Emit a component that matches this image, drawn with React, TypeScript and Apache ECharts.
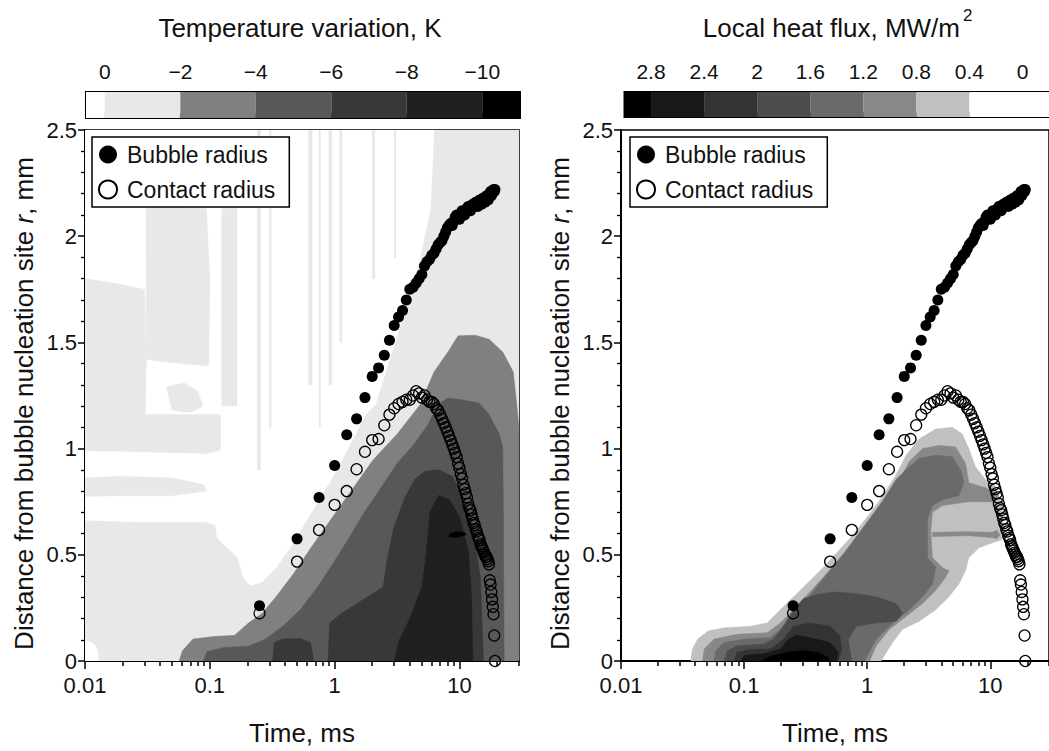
import React, { useEffect, useRef } from 'react';
import * as echarts from 'echarts';

const FONT = '"Liberation Sans", Arial, Helvetica, sans-serif';
const INK = '#111';

// ---------- measured points (time in ms, radius in mm) ----------
const timeMs = [0.25, 0.5, 0.75, 1, 1.25, 1.5, 1.75, 2, 2.25, 2.5, 2.75, 3, 3.25, 3.5, 3.75, 4, 4.25, 4.5, 4.75, 5,
  5.25, 5.5, 5.75, 6, 6.25, 6.5, 6.75, 7, 7.25, 7.5, 7.75, 8, 8.25, 8.5, 8.75, 9, 9.25, 9.5, 9.75, 10,
  10.25, 10.5, 10.75, 11, 11.25, 11.5, 11.75, 12, 12.25, 12.5, 12.75, 13, 13.25, 13.5, 13.75, 14, 14.25, 14.5, 14.75, 15,
  15.25, 15.5, 15.75, 16, 16.25, 16.5, 16.75, 17, 17.25, 17.5, 17.75, 18, 18.25, 18.5, 18.75, 19, 19.25];

const bubbleRadius = [0.26, 0.575, 0.77, 0.92, 1.065, 1.14, 1.24, 1.34, 1.38, 1.44,
  1.51, 1.58, 1.62, 1.65, 1.70, 1.75, 1.76, 1.78, 1.80, 1.82,
  1.86, 1.88, 1.89, 1.91, 1.92, 1.94, 1.96, 1.97, 1.98, 2.00,
  2.02, 2.04, 2.05, 2.06, 2.05, 2.07, 2.09, 2.10, 2.09, 2.08,
  2.10, 2.12, 2.11, 2.10, 2.12, 2.13, 2.14, 2.13, 2.12, 2.14,
  2.15, 2.14, 2.15, 2.16, 2.15, 2.14, 2.16, 2.17, 2.16, 2.15,
  2.17, 2.18, 2.17, 2.16, 2.18, 2.19, 2.18, 2.17, 2.19, 2.20,
  2.21, 2.19, 2.20, 2.21, 2.22, 2.21, 2.22];

const contactRadius = [0.225, 0.468, 0.617, 0.735, 0.80, 0.903, 0.985, 1.04, 1.045, 1.11,
  1.16, 1.19, 1.21, 1.22, 1.23, 1.23, 1.25, 1.27, 1.26, 1.24,
  1.25, 1.23, 1.22, 1.22, 1.21, 1.19, 1.18, 1.16, 1.14, 1.12,
  1.10, 1.08, 1.06, 1.04, 1.02, 1.00, 0.98, 0.96, 0.93, 0.91,
  0.88, 0.86, 0.83, 0.81, 0.79, 0.77, 0.74, 0.72, 0.71, 0.69,
  0.67, 0.65, 0.64, 0.62, 0.61, 0.59, 0.58, 0.57, 0.55, 0.54,
  0.53, 0.52, 0.51, 0.50, 0.49, 0.49, 0.48, 0.47, 0.455, 0.38,
  0.36, 0.325, 0.29, 0.255, 0.22, 0.12, 0.0];

// ---------- axes ----------
const xMajorTicks = [0.01, 0.1, 1, 10];
const xTickLabels = ['0.01', '0.1', '1', '10'];
const xMinorTicks = [0.02, 0.03, 0.04, 0.05, 0.06, 0.07, 0.08, 0.09, 0.2, 0.3, 0.4, 0.5, 0.6, 0.7, 0.8, 0.9,
  2, 3, 4, 5, 6, 7, 8, 9, 20, 30];

// ---------- colour bars ----------
const tempBounds = [0.5, 0, -2, -4, -6, -8, -10, -11];
const tempColors = ['#ffffff', '#e8e8e8', '#808080', '#585858', '#383838', '#202020', '#000000'];
const tempTicks = [0, -1, -2, -3, -4, -5, -6, -7, -8, -9, -10, -11];
const tempLabels = [0, -2, -4, -6, -8, -10];

const fluxBounds = [3.0, 2.8, 2.4, 2.0, 1.6, 1.2, 0.8, 0.4, -0.2];
const fluxColors = ['#000000', '#181818', '#333333', '#4c4c4c', '#6a6a6a', '#888888', '#c0c0c0', '#ffffff'];
const fluxTicks = [2.8, 2.4, 2, 1.6, 1.2, 0.8, 0.4, 0];

// ---------- temperature contours [time ms, r mm] ----------
const tempDomain = [[0.01, 0], [30, 0], [30, 2.5], [0.01, 2.5]];
const tempWarmMain = [[0.01, 2.5], [6.25, 2.5], [5.86, 2.13], [4.84, 1.9], [3.76, 1.67], [3.1, 1.515], [2.56, 1.36],
  [2.12, 1.207], [1.78, 1.16], [1.47, 1.07], [1.22, 0.977], [0.94, 0.854], [0.73, 0.747], [0.565, 0.64], [0.438, 0.532],
  [0.339, 0.44], [0.262, 0.371], [0.21, 0.356], [0.185, 0.394], [0.168, 0.486], [0.139, 0.532], [0.115, 0.578],
  [0.111, 0.64], [0.0946, 0.655], [0.0264, 0.655], [0.01, 0.663]];
const tempCoolBlockA = [[0.01, 1.8], [0.0169, 1.78], [0.03, 1.75], [0.031, 1.42], [0.03, 0.99], [0.01, 0.99]];
const tempCoolBlockB = [[0.0308, 2.13], [0.041, 2.14], [0.0937, 2.13], [0.1, 1.8], [0.098, 1.39], [0.06, 1.4], [0.031, 1.42]];
const tempCoolBand = [[0.01, 1.16], [0.122, 1.16], [0.122, 0.992], [0.0946, 0.977], [0.0264, 0.985], [0.01, 0.992]];
const tempCoolDrop = [[0.045, 1.29], [0.062, 1.31], [0.08, 1.27], [0.088, 1.2], [0.07, 1.17], [0.05, 1.18]];
const tempCoolCigar = [[0.01, 0.862], [0.0192, 0.87], [0.05, 0.862], [0.0887, 0.831], [0.0946, 0.8], [0.05, 0.778],
  [0.0192, 0.778], [0.01, 0.775]];
const tempWarmCorner = [[0.01, 0], [0.0128, 0], [0.0126, 0.05], [0.0118, 0.08], [0.01, 0.1]];
// vertical streaks: [t0, t1, r0, r1]
const tempStreaks = [[0.125, 0.165, 1.2, 2.13], [0.24, 0.255, 0.9, 2.5], [0.3, 0.31, 1.1, 2.5], [0.62, 0.66, 1.3, 2.5],
  [0.75, 0.77, 1.1, 2.5], [0.9, 0.95, 1.3, 2.5], [1.1, 1.14, 1.5, 2.5], [2.0, 2.1, 1.8, 2.5], [3.0, 3.1, 1.9, 2.5]];
const tempLevel2 = [[0.0568, 0], [0.0605, 0.049], [0.0733, 0.103], [0.107, 0.115], [0.158, 0.121], [0.204, 0.179],
  [0.263, 0.225], [0.339, 0.302], [0.467, 0.41], [0.643, 0.532], [0.942, 0.67], [1.38, 0.808], [2.03, 0.946],
  [3.17, 1.069], [4.84, 1.207], [6.25, 1.361], [8.06, 1.454], [9.75, 1.531], [13.4, 1.534], [17.3, 1.515],
  [22.3, 1.454], [27, 1.361], [28.8, 1.207], [30, 1.1], [30, 0]];
const tempLevel3 = [[0.0887, 0], [0.0946, 0.044], [0.13, 0.064], [0.204, 0.069], [0.28, 0.103], [0.385, 0.164],
  [0.53, 0.241], [0.73, 0.348], [1.0, 0.471], [1.3, 0.578], [1.67, 0.686], [2.3, 0.808], [3.17, 0.931], [4.36, 1.023],
  [5.62, 1.115], [6.65, 1.207], [8.06, 1.238], [10.4, 1.23], [14.3, 1.215], [17.3, 1.16], [20.9, 1.068],
  [22.2, 1.008], [22.5, 0.7], [22.8, 0]];
const tempLevel4 = [[0.883, 0], [0.9, 0.1], [0.912, 0.179], [1.14, 0.225], [1.67, 0.287], [2.45, 0.348], [2.62, 0.471],
  [2.97, 0.624], [3.6, 0.762], [4.36, 0.854], [5.27, 0.893], [6.81, 0.9], [8.79, 0.87], [10.6, 0.778], [12.9, 0.624],
  [14.7, 0.394], [15.6, 0]];
const tempLevel4b = [[0.318, 0], [0.328, 0.087], [0.385, 0.103], [0.53, 0.106], [0.64, 0.087], [0.68, 0]];
const tempDot = [[1.65, 0.2], [1.73, 0.215], [1.82, 0.2], [1.73, 0.185]];
const tempLevel5 = [[3.0, 0], [3.3, 0.1], [4.0, 0.2], [5.0, 0.35], [5.4, 0.5], [5.8, 0.7], [6.8, 0.78], [8.3, 0.76],
  [10.0, 0.68], [11.8, 0.52], [12.5, 0.3], [12.8, 0]];
const tempSpot = [[8.27, 0.597], [9.37, 0.609], [11.0, 0.606], [11.3, 0.594], [9.37, 0.581], [8.27, 0.586]];

// ---------- heat-flux contours [time ms, r mm] ----------
const fluxLevel04 = [[0.037, 0], [0.038, 0.057], [0.042, 0.103], [0.051, 0.141], [0.069, 0.156], [0.113, 0.164],
  [0.154, 0.179], [0.185, 0.225], [0.237, 0.287], [0.304, 0.348], [0.414, 0.425], [0.564, 0.509], [0.769, 0.594],
  [1.047, 0.693], [1.34, 0.778], [1.717, 0.877], [2.07, 0.969], [2.65, 1.046], [3.61, 1.092], [4.91, 1.1],
  [5.92, 1.069], [6.69, 1.0], [7.57, 0.916], [9.12, 0.854], [11.0, 0.824], [12.4, 0.732], [12.8, 0.609],
  [12.4, 0.571], [10.3, 0.555], [8.05, 0.532], [6.69, 0.486], [6.29, 0.425], [5.56, 0.363], [4.62, 0.302],
  [3.61, 0.241], [2.65, 0.187], [1.94, 0.149], [1.61, 0.087], [1.38, 0.026], [1.3, 0]];
const fluxLevel08 = [[0.046, 0], [0.0475, 0.057], [0.057, 0.103], [0.088, 0.126], [0.154, 0.133], [0.197, 0.179],
  [0.252, 0.241], [0.324, 0.31], [0.44, 0.394], [0.6, 0.486], [0.817, 0.578], [1.114, 0.67], [1.426, 0.755],
  [1.827, 0.854], [2.2, 0.939], [2.82, 1.0], [3.84, 1.015], [5.23, 1.008], [6.29, 0.931], [6.69, 0.839],
  [9.12, 0.816], [11.7, 0.785], [11.0, 0.75], [6.69, 0.75], [4.08, 0.732], [3.39, 0.701], [3.29, 0.609],
  [3.39, 0.486], [4.08, 0.44], [4.62, 0.425], [4.34, 0.394], [3.61, 0.333], [2.82, 0.271], [2.07, 0.21],
  [1.517, 0.149], [1.185, 0.072], [1.047, 0]];
const fluxTongue = [[3.39, 0.606], [6.69, 0.609], [10.3, 0.606], [11.3, 0.615], [12.0, 0.594], [11.3, 0.575],
  [10.3, 0.581], [6.69, 0.59], [3.39, 0.586]];
const fluxLevel12 = [[0.057, 0], [0.059, 0.049], [0.069, 0.087], [0.1, 0.103], [0.164, 0.11], [0.197, 0.149],
  [0.237, 0.21], [0.304, 0.271], [0.389, 0.348], [0.499, 0.425], [0.638, 0.5], [0.817, 0.586], [1.047, 0.67],
  [1.34, 0.755], [1.717, 0.854], [2.07, 0.9], [2.65, 0.954], [3.61, 0.969], [4.91, 0.962], [5.74, 0.9],
  [6.1, 0.839], [5.56, 0.778], [4.08, 0.759], [3.39, 0.732], [3.09, 0.67], [3.09, 0.486], [3.61, 0.44],
  [3.39, 0.363], [2.82, 0.302], [2.2, 0.241], [1.614, 0.179], [1.185, 0.103], [0.955, 0]];
const fluxLevel16 = [[0.069, 0], [0.073, 0.049], [0.088, 0.072], [0.145, 0.08], [0.174, 0.103], [0.21, 0.164],
  [0.252, 0.241], [0.304, 0.294], [0.414, 0.317], [0.564, 0.325], [0.817, 0.317], [1.185, 0.302], [1.717, 0.271],
  [1.943, 0.225], [1.717, 0.187], [1.185, 0.179], [0.817, 0.164], [0.7, 0.1], [0.75, 0]];
const fluxLevel20 = [[0.083, 0], [0.088, 0.041], [0.113, 0.054], [0.164, 0.057], [0.21, 0.103], [0.252, 0.164],
  [0.344, 0.179], [0.499, 0.164], [0.6, 0.118], [0.619, 0.057], [0.582, 0]];
const fluxLevel24 = [[0.094, 0], [0.1, 0.026], [0.145, 0.034], [0.197, 0.057], [0.23, 0.103], [0.268, 0.121],
  [0.344, 0.11], [0.499, 0.087], [0.582, 0.041], [0.564, 0]];
const fluxLevel28 = [[0.14, 0], [0.16, 0.02], [0.22, 0.04], [0.3, 0.05], [0.4, 0.04], [0.48, 0.015], [0.5, 0]];

type Region = { level: number; pts: number[][] };

const tempRegions: Region[] = [
  { level: 1, pts: tempDomain },
  { level: 0, pts: tempWarmMain },
  { level: 0, pts: tempWarmCorner },
  { level: 1, pts: tempCoolBlockA },
  { level: 1, pts: tempCoolBlockB },
  { level: 1, pts: tempCoolBand },
  { level: 1, pts: tempCoolDrop },
  { level: 1, pts: tempCoolCigar },
  ...tempStreaks.map(([t0, t1, r0, r1]) => ({ level: 1, pts: [[t0, r0], [t1, r0], [t1, r1], [t0, r1]] })),
  { level: 2, pts: tempLevel2 },
  { level: 3, pts: tempLevel3 },
  { level: 4, pts: tempLevel4 },
  { level: 4, pts: tempLevel4b },
  { level: 4, pts: tempDot },
  { level: 5, pts: tempLevel5 },
  { level: 6, pts: tempSpot },
];

const fluxRegions: Region[] = [
  { level: 6, pts: fluxLevel04 },
  { level: 5, pts: fluxLevel08 },
  { level: 5, pts: fluxTongue },
  { level: 4, pts: fluxLevel12 },
  { level: 3, pts: fluxLevel16 },
  { level: 2, pts: fluxLevel20 },
  { level: 1, pts: fluxLevel24 },
  { level: 0, pts: fluxLevel28 },
];

function contourSeries(regions: Region[], colors: string[], xi: number, yi: number) {
  return {
    type: 'custom',
    xAxisIndex: xi,
    yAxisIndex: yi,
    clip: true,
    silent: true,
    z: 1,
    data: regions.map((g, i) => [g.pts[0][0], g.pts[0][1], i]),
    renderItem: (params: any, api: any) => {
      const g = regions[params.dataIndex];
      const points = g.pts.map((p) => api.coord(p));
      return {
        type: 'polygon',
        shape: { points },
        style: { fill: colors[g.level], stroke: colors[g.level], lineWidth: 0.5 },
      };
    },
  };
}

function colorbarSeries(bounds: number[], colors: string[], xi: number, yi: number) {
  return {
    type: 'custom',
    xAxisIndex: xi,
    yAxisIndex: yi,
    silent: true,
    clip: true,
    data: colors.map((c, i) => [bounds[i], bounds[i + 1], i]),
    renderItem: (params: any, api: any) => {
      const a = api.coord([api.value(0), 0]);
      const b = api.coord([api.value(1), 1]);
      return {
        type: 'rect',
        shape: { x: Math.min(a[0], b[0]), y: b[1], width: Math.abs(b[0] - a[0]), height: a[1] - b[1] },
        style: { fill: colors[api.value(2)] },
      };
    },
  };
}

function fmtTime(v: number) {
  for (let i = 0; i < xMajorTicks.length; i++) {
    if (Math.abs(Math.log10(v) - Math.log10(xMajorTicks[i])) < 1e-6) return xTickLabels[i];
  }
  return '';
}

function timeAxes(gridIndex: number) {
  const base = { type: 'log', gridIndex, logBase: 10, min: 0.01, max: 30, position: 'bottom', splitLine: { show: false } };
  return [
    {
      ...base,
      name: 'Time, ms',
      nameLocation: 'middle',
      nameGap: 59,
      nameTextStyle: { fontSize: 26, color: INK, fontFamily: FONT },
      axisLine: { show: true, onZero: false, lineStyle: { color: '#000', width: 2 } },
      axisTick: { show: true, inside: false, length: 8, customValues: xMajorTicks, lineStyle: { color: '#000', width: 1.5 } },
      axisLabel: { show: true, customValues: xMajorTicks, formatter: fmtTime, fontSize: 22, color: INK, margin: 13, fontFamily: FONT },
    },
    {
      ...base,
      axisLine: { show: false, onZero: false },
      axisTick: { show: true, inside: false, length: 5, customValues: xMinorTicks, lineStyle: { color: '#000', width: 1.5 } },
      axisLabel: { show: false },
    },
  ];
}

function radiusAxis(gridIndex: number) {
  return {
    type: 'value',
    gridIndex,
    min: 0,
    max: 2.5,
    interval: 0.5,
    name: 'Distance from bubble nucleation site {i|r}, mm',
    nameLocation: 'middle',
    nameGap: 48,
    nameRotate: 90,
    nameTextStyle: {
      fontSize: 26, color: INK, fontFamily: FONT, padding: [0, 16, 0, 0],
      rich: { i: { fontStyle: 'italic', fontSize: 26, color: INK, fontFamily: FONT } },
    },
    axisLine: { show: true, onZero: false, lineStyle: { color: '#000', width: 2 } },
    axisTick: { show: true, inside: false, length: 7, lineStyle: { color: '#000', width: 1.5 } },
    minorTick: { show: true, splitNumber: 5, length: 4, lineStyle: { color: '#000', width: 1.3 } },
    axisLabel: { fontSize: 22, color: INK, margin: 8, fontFamily: FONT, formatter: (v: number) => String(v) },
    splitLine: { show: false },
    minorSplitLine: { show: false },
  };
}

function legend(left: number) {
  return {
    show: true,
    orient: 'vertical',
    left,
    top: 137,
    data: ['Bubble radius', 'Contact radius'],
    icon: 'circle',
    itemWidth: 28,
    itemHeight: 18,
    itemGap: 12,
    padding: [6, 14, 6, 6],
    borderColor: '#000',
    borderWidth: 1.5,
    borderRadius: 0,
    backgroundColor: '#fff',
    selectedMode: false,
    textStyle: { fontSize: 23, color: INK, fontFamily: FONT },
  };
}

function scatterPair(xi: number, yi: number) {
  return [
    {
      type: 'scatter', name: 'Bubble radius', xAxisIndex: xi, yAxisIndex: yi, z: 5,
      symbol: 'circle', symbolSize: 11, itemStyle: { color: '#000', opacity: 1 },
      data: timeMs.map((t, i) => [t, bubbleRadius[i]]),
    },
    {
      type: 'scatter', name: 'Contact radius', xAxisIndex: xi, yAxisIndex: yi, z: 5,
      symbol: 'circle', symbolSize: 11,
      itemStyle: { color: 'rgba(255,255,255,0)', borderColor: '#000', borderWidth: 1.3, opacity: 1 },
      data: timeMs.map((t, i) => [t, contactRadius[i]]),
    },
  ];
}

const minus = (v: number) => (v < 0 ? '\u2212' + Math.abs(v) : String(v));
const fluxFmt = (v: number) => String(Math.round(v * 10) / 10);

const option: any = {
  animation: false,
  backgroundColor: '#ffffff',
  textStyle: { fontFamily: FONT },
  grid: [
    { left: 85, top: 130, width: 434, height: 542, show: true, borderColor: '#000', borderWidth: 1.5, backgroundColor: 'transparent' },
    { left: 621, top: 130, width: 434, height: 542, show: true, borderColor: '#000', borderWidth: 1.5, backgroundColor: 'transparent' },
    { left: 86, top: 92, width: 434, height: 26, show: true, borderColor: '#000', borderWidth: 2, backgroundColor: 'transparent' },
    { left: 624.5, top: 92, width: 434, height: 25, show: true, borderColor: '#000', borderWidth: 2, backgroundColor: 'transparent' },
  ],
  xAxis: [
    ...timeAxes(0),
    ...timeAxes(1),
    {
      type: 'value', gridIndex: 2, min: -11, max: 0.5, inverse: true, position: 'top',
      axisLine: { show: false },
      axisTick: { show: true, inside: false, length: 5, customValues: tempTicks, lineStyle: { color: '#000', width: 1.5 } },
      axisLabel: { show: true, customValues: tempLabels, formatter: minus, fontSize: 21, color: INK, margin: 10, fontFamily: FONT },
      splitLine: { show: false },
    },
    {
      type: 'value', gridIndex: 3, min: -0.2, max: 3.0, inverse: true, position: 'top',
      axisLine: { show: false },
      axisTick: { show: true, inside: false, length: 5, customValues: fluxTicks, lineStyle: { color: '#000', width: 1.5 } },
      axisLabel: { show: true, customValues: fluxTicks, formatter: fluxFmt, fontSize: 21, color: INK, margin: 10, fontFamily: FONT },
      splitLine: { show: false },
    },
  ],
  yAxis: [
    radiusAxis(0),
    radiusAxis(1),
    { type: 'value', gridIndex: 2, min: 0, max: 1, show: false },
    { type: 'value', gridIndex: 3, min: 0, max: 1, show: false },
  ],
  legend: [legend(92), legend(630)],
  graphic: [
    {
      type: 'text', x: 300, y: 28,
      style: { text: 'Temperature variation, K', fontSize: 26, fontFamily: FONT, fill: INK, align: 'center', verticalAlign: 'middle' },
    },
    {
      type: 'text', x: 960, y: 28,
      style: { text: 'Local heat flux, MW/m', fontSize: 26, fontFamily: FONT, fill: INK, align: 'right', verticalAlign: 'middle' },
    },
    {
      type: 'text', x: 963, y: 15,
      style: { text: '2', fontSize: 17, fontFamily: FONT, fill: INK, align: 'left', verticalAlign: 'middle' },
    },
  ],
  series: [
    contourSeries(tempRegions, tempColors, 0, 0),
    contourSeries(fluxRegions, fluxColors, 2, 1),
    ...scatterPair(0, 0),
    ...scatterPair(2, 1),
    colorbarSeries(tempBounds, tempColors, 4, 2),
    colorbarSeries(fluxBounds, fluxColors, 5, 3),
  ],
};

export default function App() {
  const ref = useRef<HTMLDivElement>(null);
  useEffect(() => {
    if (!ref.current) return;
    const chart = echarts.init(ref.current, undefined, { renderer: 'svg' });
    chart.setOption(option);
    return () => chart.dispose();
  }, []);
  return (
    <div
      ref={ref}
      style={{ position: 'absolute', left: 0, top: 0, width: 1049, height: 751, background: '#fff' }}
    />
  );
}
